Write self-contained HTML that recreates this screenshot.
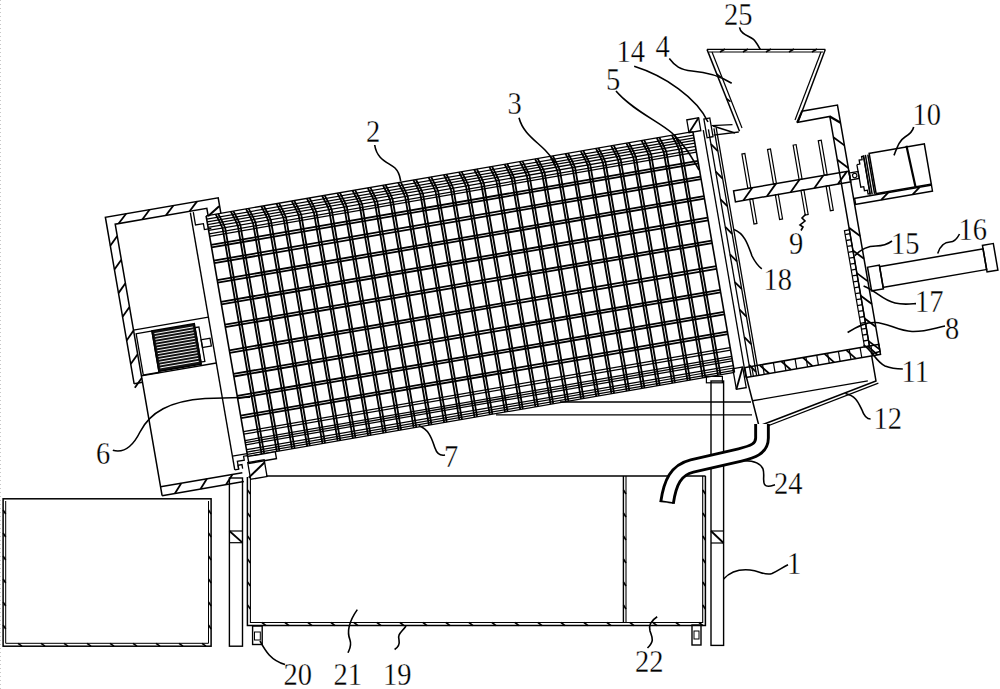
<!DOCTYPE html><html><head><meta charset="utf-8"><style>
html,body{margin:0;padding:0;background:#fff;width:1000px;height:689px;overflow:hidden}
svg{display:block}
text{font-family:"Liberation Serif",serif;fill:#000}
</style></head><body>
<svg width="1000" height="689" viewBox="0 0 1000 689">
<g stroke="#000" fill="none" stroke-linecap="butt">
<g transform="translate(207,221) rotate(-9.8)">
<line x1="0" y1="-5.3" x2="0" y2="239" stroke-width="1.6"/>
<polyline points="9.64,-5.3 12.64,4 14.14,10 14.14,239" stroke-width="1.8"/>
<polyline points="12.24,-5.3 15.24,4 16.74,10 16.74,239" stroke-width="1.8"/>
<polyline points="25.07,-5.3 28.07,4 29.57,10 29.57,239" stroke-width="1.8"/>
<polyline points="27.67,-5.3 30.67,4 32.17,10 32.17,239" stroke-width="1.8"/>
<polyline points="40.51,-5.3 43.51,4 45.01,10 45.01,239" stroke-width="1.8"/>
<polyline points="43.11,-5.3 46.11,4 47.61,10 47.61,239" stroke-width="1.8"/>
<polyline points="55.95,-5.3 58.95,4 60.45,10 60.45,239" stroke-width="1.8"/>
<polyline points="58.55,-5.3 61.55,4 63.05,10 63.05,239" stroke-width="1.8"/>
<polyline points="71.39,-5.3 74.39,4 75.89,10 75.89,239" stroke-width="1.8"/>
<polyline points="73.99,-5.3 76.99,4 78.49,10 78.49,239" stroke-width="1.8"/>
<polyline points="86.83,-5.3 89.83,4 91.33,10 91.33,239" stroke-width="1.8"/>
<polyline points="89.42,-5.3 92.42,4 93.92,10 93.92,239" stroke-width="1.8"/>
<polyline points="102.26,-5.3 105.26,4 106.76,10 106.76,239" stroke-width="1.8"/>
<polyline points="104.86,-5.3 107.86,4 109.36,10 109.36,239" stroke-width="1.8"/>
<polyline points="117.7,-5.3 120.7,4 122.2,10 122.2,239" stroke-width="1.8"/>
<polyline points="120.3,-5.3 123.3,4 124.8,10 124.8,239" stroke-width="1.8"/>
<polyline points="133.14,-5.3 136.14,4 137.64,10 137.64,239" stroke-width="1.8"/>
<polyline points="135.74,-5.3 138.74,4 140.24,10 140.24,239" stroke-width="1.8"/>
<polyline points="148.57,-5.3 151.57,4 153.07,10 153.07,239" stroke-width="1.8"/>
<polyline points="151.18,-5.3 154.18,4 155.68,10 155.68,239" stroke-width="1.8"/>
<polyline points="164.01,-5.3 167.01,4 168.51,10 168.51,239" stroke-width="1.8"/>
<polyline points="166.61,-5.3 169.61,4 171.11,10 171.11,239" stroke-width="1.8"/>
<polyline points="179.45,-5.3 182.45,4 183.95,10 183.95,239" stroke-width="1.8"/>
<polyline points="182.05,-5.3 185.05,4 186.55,10 186.55,239" stroke-width="1.8"/>
<polyline points="194.89,-5.3 197.89,4 199.39,10 199.39,239" stroke-width="1.8"/>
<polyline points="197.49,-5.3 200.49,4 201.99,10 201.99,239" stroke-width="1.8"/>
<polyline points="210.32,-5.3 213.32,4 214.82,10 214.82,239" stroke-width="1.8"/>
<polyline points="212.93,-5.3 215.93,4 217.43,10 217.43,239" stroke-width="1.8"/>
<polyline points="225.76,-5.3 228.76,4 230.26,10 230.26,239" stroke-width="1.8"/>
<polyline points="228.36,-5.3 231.36,4 232.86,10 232.86,239" stroke-width="1.8"/>
<polyline points="241.2,-5.3 244.2,4 245.7,10 245.7,239" stroke-width="1.8"/>
<polyline points="243.8,-5.3 246.8,4 248.3,10 248.3,239" stroke-width="1.8"/>
<polyline points="256.64,-5.3 259.64,4 261.14,10 261.14,239" stroke-width="1.8"/>
<polyline points="259.24,-5.3 262.24,4 263.74,10 263.74,239" stroke-width="1.8"/>
<polyline points="272.07,-5.3 275.07,4 276.57,10 276.57,239" stroke-width="1.8"/>
<polyline points="274.68,-5.3 277.68,4 279.18,10 279.18,239" stroke-width="1.8"/>
<polyline points="287.51,-5.3 290.51,4 292.01,10 292.01,239" stroke-width="1.8"/>
<polyline points="290.11,-5.3 293.11,4 294.61,10 294.61,239" stroke-width="1.8"/>
<polyline points="302.95,-5.3 305.95,4 307.45,10 307.45,239" stroke-width="1.8"/>
<polyline points="305.55,-5.3 308.55,4 310.05,10 310.05,239" stroke-width="1.8"/>
<polyline points="318.39,-5.3 321.39,4 322.89,10 322.89,239" stroke-width="1.8"/>
<polyline points="320.99,-5.3 323.99,4 325.49,10 325.49,239" stroke-width="1.8"/>
<polyline points="333.82,-5.3 336.82,4 338.32,10 338.32,239" stroke-width="1.8"/>
<polyline points="336.43,-5.3 339.43,4 340.93,10 340.93,239" stroke-width="1.8"/>
<polyline points="349.26,-5.3 352.26,4 353.76,10 353.76,239" stroke-width="1.8"/>
<polyline points="351.86,-5.3 354.86,4 356.36,10 356.36,239" stroke-width="1.8"/>
<polyline points="364.7,-5.3 367.7,4 369.2,10 369.2,239" stroke-width="1.8"/>
<polyline points="367.3,-5.3 370.3,4 371.8,10 371.8,239" stroke-width="1.8"/>
<polyline points="380.14,-5.3 383.14,4 384.64,10 384.64,239" stroke-width="1.8"/>
<polyline points="382.74,-5.3 385.74,4 387.24,10 387.24,239" stroke-width="1.8"/>
<polyline points="395.57,-5.3 398.57,4 400.07,10 400.07,239" stroke-width="1.8"/>
<polyline points="398.18,-5.3 401.18,4 402.68,10 402.68,239" stroke-width="1.8"/>
<polyline points="411.01,-5.3 414.01,4 415.51,10 415.51,239" stroke-width="1.8"/>
<polyline points="413.61,-5.3 416.61,4 418.11,10 418.11,239" stroke-width="1.8"/>
<polyline points="426.45,-5.3 429.45,4 430.95,10 430.95,239" stroke-width="1.8"/>
<polyline points="429.05,-5.3 432.05,4 433.55,10 433.55,239" stroke-width="1.8"/>
<polyline points="441.89,-5.3 444.89,4 446.39,10 446.39,239" stroke-width="1.8"/>
<polyline points="444.49,-5.3 447.49,4 448.99,10 448.99,239" stroke-width="1.8"/>
<polyline points="457.32,-5.3 460.32,4 461.82,10 461.82,239" stroke-width="1.8"/>
<polyline points="459.93,-5.3 462.93,4 464.43,10 464.43,239" stroke-width="1.8"/>
<polyline points="472.76,-5.3 475.76,4 477.26,10 477.26,239" stroke-width="1.8"/>
<polyline points="475.36,-5.3 478.36,4 479.86,10 479.86,239" stroke-width="1.8"/>
<line x1="494" y1="-5.3" x2="494" y2="239" stroke-width="1.6"/>
<line x1="0" y1="24.2" x2="494" y2="24.2" stroke-width="1.8"/>
<line x1="0" y1="26.8" x2="494" y2="26.8" stroke-width="1.8"/>
<line x1="0" y1="40.2" x2="494" y2="40.2" stroke-width="1.8"/>
<line x1="0" y1="42.8" x2="494" y2="42.8" stroke-width="1.8"/>
<line x1="0" y1="60" x2="494" y2="60" stroke-width="1.8"/>
<line x1="0" y1="62.6" x2="494" y2="62.6" stroke-width="1.8"/>
<line x1="0" y1="82" x2="494" y2="82" stroke-width="1.8"/>
<line x1="0" y1="84.6" x2="494" y2="84.6" stroke-width="1.8"/>
<line x1="0" y1="105.2" x2="494" y2="105.2" stroke-width="1.8"/>
<line x1="0" y1="107.8" x2="494" y2="107.8" stroke-width="1.8"/>
<line x1="0" y1="131.2" x2="494" y2="131.2" stroke-width="1.8"/>
<line x1="0" y1="133.8" x2="494" y2="133.8" stroke-width="1.8"/>
<line x1="0" y1="155.2" x2="494" y2="155.2" stroke-width="1.8"/>
<line x1="0" y1="157.8" x2="494" y2="157.8" stroke-width="1.8"/>
<line x1="0" y1="177.5" x2="494" y2="177.5" stroke-width="1.8"/>
<line x1="0" y1="180.1" x2="494" y2="180.1" stroke-width="1.8"/>
<line x1="0" y1="197.5" x2="494" y2="197.5" stroke-width="1.8"/>
<line x1="0" y1="200.1" x2="494" y2="200.1" stroke-width="1.8"/>
<line x1="0" y1="-5.3" x2="494" y2="-5.3" stroke-width="1.25"/>
<line x1="0" y1="-1.9" x2="494" y2="-1.9" stroke-width="1.25"/>
<line x1="0" y1="1" x2="494" y2="1" stroke-width="1.25"/>
<line x1="0" y1="3.6" x2="494" y2="3.6" stroke-width="1.25"/>
<line x1="0" y1="6.4" x2="494" y2="6.4" stroke-width="1.25"/>
<line x1="0" y1="9.6" x2="494" y2="9.6" stroke-width="1.25"/>
<line x1="0" y1="13" x2="494" y2="13" stroke-width="1.25"/>
<line x1="0" y1="15.5" x2="494" y2="15.5" stroke-width="1.25"/>
<line x1="0" y1="213.8" x2="494" y2="213.8" stroke-width="1.25"/>
<line x1="0" y1="216.3" x2="494" y2="216.3" stroke-width="1.25"/>
<line x1="0" y1="222.8" x2="494" y2="222.8" stroke-width="1.25"/>
<line x1="0" y1="225" x2="494" y2="225" stroke-width="1.25"/>
<line x1="0" y1="227.2" x2="494" y2="227.2" stroke-width="1.25"/>
<line x1="0" y1="232.1" x2="494" y2="232.1" stroke-width="1.25"/>
<line x1="0" y1="234.5" x2="494" y2="234.5" stroke-width="1.25"/>
<line x1="0" y1="236.8" x2="494" y2="236.8" stroke-width="1.25"/>
<line x1="0" y1="239" x2="494" y2="239" stroke-width="1.25"/>
<polyline points="-99.5,148 -99.5,-21 15,-21 15,-5" fill="none" stroke-width="1.5"/>
<line x1="2.5" y1="-5" x2="14.5" y2="-12.5" stroke-width="2.0"/>
<polyline points="-91,263 -91,-12.5 2,-12.5 2,-4" fill="none" stroke-width="1.5"/>
<line x1="-99.5" y1="148" x2="-91" y2="148" stroke-width="1.5"/>
<line x1="-87.5" y1="-12.5" x2="-78.5" y2="-21" stroke-width="1.8"/>
<line x1="-63.5" y1="-12.5" x2="-54.5" y2="-21" stroke-width="1.8"/>
<line x1="-39.5" y1="-12.5" x2="-30.5" y2="-21" stroke-width="1.8"/>
<line x1="-15.5" y1="-12.5" x2="-6.5" y2="-21" stroke-width="1.8"/>
<line x1="-99.5" y1="8" x2="-91" y2="-0.5" stroke-width="1.8"/>
<line x1="-99.5" y1="32" x2="-91" y2="23.5" stroke-width="1.8"/>
<line x1="-99.5" y1="56" x2="-91" y2="47.5" stroke-width="1.8"/>
<line x1="-99.5" y1="80" x2="-91" y2="71.5" stroke-width="1.8"/>
<line x1="-99.5" y1="104" x2="-91" y2="95.5" stroke-width="1.8"/>
<line x1="-99.5" y1="128" x2="-91" y2="119.5" stroke-width="1.8"/>
<line x1="-99.5" y1="152" x2="-91" y2="143.5" stroke-width="1.8"/>
<line x1="-91" y1="263" x2="-8" y2="263" stroke-width="1.5"/>
<line x1="-91" y1="254" x2="-8" y2="254" stroke-width="1.5"/>
<line x1="-78" y1="263" x2="-70" y2="254" stroke-width="1.8"/>
<line x1="-52" y1="263" x2="-44" y2="254" stroke-width="1.8"/>
<line x1="-26" y1="263" x2="-18" y2="254" stroke-width="1.8"/>
<line x1="-91" y1="95" x2="-15" y2="95" stroke-width="1.3"/>
<line x1="-91" y1="141.5" x2="-15" y2="141.5" stroke-width="1.3"/>
<rect x="-89" y="99" width="16" height="42" fill="none" stroke-width="1.3"/>
<rect x="-73" y="99" width="43" height="41" fill="#111" stroke-width="1.5"/>
<line x1="-71" y1="102" x2="-32" y2="102" stroke="#fff" stroke-width="0.9"/>
<line x1="-71" y1="104.9" x2="-32" y2="104.9" stroke="#fff" stroke-width="0.9"/>
<line x1="-71" y1="107.8" x2="-32" y2="107.8" stroke="#fff" stroke-width="0.9"/>
<line x1="-71" y1="110.7" x2="-32" y2="110.7" stroke="#fff" stroke-width="0.9"/>
<line x1="-71" y1="113.6" x2="-32" y2="113.6" stroke="#fff" stroke-width="0.9"/>
<line x1="-71" y1="116.5" x2="-32" y2="116.5" stroke="#fff" stroke-width="0.9"/>
<line x1="-71" y1="119.4" x2="-32" y2="119.4" stroke="#fff" stroke-width="0.9"/>
<line x1="-71" y1="122.3" x2="-32" y2="122.3" stroke="#fff" stroke-width="0.9"/>
<line x1="-71" y1="125.2" x2="-32" y2="125.2" stroke="#fff" stroke-width="0.9"/>
<line x1="-71" y1="128.1" x2="-32" y2="128.1" stroke="#fff" stroke-width="0.9"/>
<line x1="-71" y1="131" x2="-32" y2="131" stroke="#fff" stroke-width="0.9"/>
<line x1="-71" y1="133.9" x2="-32" y2="133.9" stroke="#fff" stroke-width="0.9"/>
<line x1="-71" y1="136.8" x2="-32" y2="136.8" stroke="#fff" stroke-width="0.9"/>
<rect x="-30" y="103" width="4" height="35" fill="none" stroke-width="1.3"/>
<rect x="-26" y="116" width="9" height="8" fill="none" stroke-width="1.3"/>
<polyline points="-12,-11 -12,2 -4,2 -4,8 3,8" fill="none" stroke-width="1.3"/>
<polyline points="-15,236 0,236" fill="none" stroke-width="1.3"/>
<polyline points="-15,250 -11,250 -11,242 -4,242 -4,238 0,238" fill="none" stroke-width="1.3"/>
<line x1="-15" y1="-11" x2="-15" y2="250" stroke-width="1.4"/>
<rect x="0" y="239" width="28" height="7" fill="#fff" stroke-width="1.4"/>
<rect x="-1" y="245" width="16.7" height="17" fill="none" stroke-width="1.3"/>
<line x1="-2.5" y1="260" x2="15.5" y2="247.8" stroke-width="2.0"/>
<polyline points="-11,250 -11,246 -7,246 -7,250" fill="none" stroke-width="1.3"/>
<line x1="504.5" y1="-5" x2="504.5" y2="246" stroke-width="1.3"/>
<line x1="509.7" y1="-5" x2="509.7" y2="246" stroke-width="1.3"/>
<line x1="515.3" y1="-5" x2="515.3" y2="246" stroke-width="1.3"/>
<line x1="517.6" y1="-5" x2="517.6" y2="246" stroke-width="1.3"/>
<line x1="509.7" y1="10" x2="515.3" y2="18" stroke-width="1.8"/>
<line x1="509.7" y1="38" x2="515.3" y2="46" stroke-width="1.8"/>
<line x1="509.7" y1="66" x2="515.3" y2="74" stroke-width="1.8"/>
<line x1="509.7" y1="94" x2="515.3" y2="102" stroke-width="1.8"/>
<line x1="509.7" y1="122" x2="515.3" y2="130" stroke-width="1.8"/>
<line x1="509.7" y1="150" x2="515.3" y2="158" stroke-width="1.8"/>
<line x1="509.7" y1="178" x2="515.3" y2="186" stroke-width="1.8"/>
<line x1="509.7" y1="206" x2="515.3" y2="214" stroke-width="1.8"/>
<line x1="509.7" y1="234" x2="515.3" y2="242" stroke-width="1.8"/>
<rect x="490" y="-18" width="12" height="13" fill="none" stroke-width="1.3"/>
<line x1="490" y1="-5" x2="502" y2="-18" stroke-width="1.8"/>
<rect x="507" y="-16" width="6" height="19" fill="none" stroke-width="1.3"/>
<rect x="493" y="235" width="10" height="21" fill="none" stroke-width="1.3"/>
<line x1="493" y1="256" x2="503" y2="235" stroke-width="1.8"/>
<polyline points="598,3.4 604.8,-7 641,-7 641,243 631.5,244" fill="none" stroke-width="1.5"/>
<polyline points="598,3.4 631.5,3 631.5,236" fill="none" stroke-width="1.5"/>
<line x1="631.5" y1="24" x2="641" y2="34" stroke-width="1.8"/>
<line x1="631.5" y1="47" x2="641" y2="57" stroke-width="1.8"/>
<line x1="631.5" y1="116" x2="641" y2="126" stroke-width="1.8"/>
<line x1="631.5" y1="139" x2="641" y2="149" stroke-width="1.8"/>
<line x1="631.5" y1="162" x2="641" y2="172" stroke-width="1.8"/>
<line x1="631.5" y1="185" x2="641" y2="195" stroke-width="1.8"/>
<line x1="631.5" y1="208" x2="641" y2="218" stroke-width="1.8"/>
<line x1="631.5" y1="231" x2="641" y2="241" stroke-width="1.8"/>
<line x1="631.5" y1="3" x2="641" y2="11" stroke-width="2.2"/>
<rect x="626.5" y="118" width="5" height="118" fill="none" stroke-width="1.2"/>
<line x1="626.5" y1="122" x2="631.5" y2="122" stroke-width="1.3"/>
<line x1="626.5" y1="128" x2="631.5" y2="128" stroke-width="1.3"/>
<line x1="626.5" y1="134" x2="631.5" y2="134" stroke-width="1.3"/>
<line x1="626.5" y1="140" x2="631.5" y2="140" stroke-width="1.3"/>
<line x1="626.5" y1="146" x2="631.5" y2="146" stroke-width="1.3"/>
<line x1="626.5" y1="152" x2="631.5" y2="152" stroke-width="1.3"/>
<line x1="626.5" y1="158" x2="631.5" y2="158" stroke-width="1.3"/>
<line x1="626.5" y1="164" x2="631.5" y2="164" stroke-width="1.3"/>
<line x1="626.5" y1="170" x2="631.5" y2="170" stroke-width="1.3"/>
<line x1="626.5" y1="176" x2="631.5" y2="176" stroke-width="1.3"/>
<line x1="626.5" y1="182" x2="631.5" y2="182" stroke-width="1.3"/>
<line x1="626.5" y1="188" x2="631.5" y2="188" stroke-width="1.3"/>
<line x1="626.5" y1="194" x2="631.5" y2="194" stroke-width="1.3"/>
<line x1="626.5" y1="200" x2="631.5" y2="200" stroke-width="1.3"/>
<line x1="626.5" y1="206" x2="631.5" y2="206" stroke-width="1.3"/>
<line x1="626.5" y1="212" x2="631.5" y2="212" stroke-width="1.3"/>
<line x1="626.5" y1="218" x2="631.5" y2="218" stroke-width="1.3"/>
<line x1="626.5" y1="224" x2="631.5" y2="224" stroke-width="1.3"/>
<line x1="626.5" y1="230" x2="631.5" y2="230" stroke-width="1.3"/>
<rect x="524" y="60" width="117" height="11" fill="none" stroke-width="1.5"/>
<line x1="532" y1="71" x2="543" y2="60" stroke-width="1.8"/>
<line x1="556" y1="71" x2="567" y2="60" stroke-width="1.8"/>
<line x1="580" y1="71" x2="591" y2="60" stroke-width="1.8"/>
<line x1="604" y1="71" x2="615" y2="60" stroke-width="1.8"/>
<line x1="628" y1="71" x2="639" y2="60" stroke-width="1.8"/>
<rect x="538.5" y="25" width="3" height="35" fill="none" stroke-width="1.2"/>
<rect x="538.5" y="71" width="3" height="25" fill="none" stroke-width="1.2"/>
<rect x="564.5" y="25" width="3" height="35" fill="none" stroke-width="1.2"/>
<rect x="564.5" y="71" width="3" height="25" fill="none" stroke-width="1.2"/>
<rect x="590.5" y="25" width="3" height="35" fill="none" stroke-width="1.2"/>
<rect x="590.5" y="71" width="3" height="25" fill="none" stroke-width="1.2"/>
<rect x="616" y="25" width="3" height="35" fill="none" stroke-width="1.2"/>
<rect x="616" y="71" width="3" height="25" fill="none" stroke-width="1.2"/>
<rect x="641" y="62" width="9" height="7" fill="none" stroke-width="1.3"/>
<circle cx="646" cy="65.5" r="2.2" stroke-width="1.2"/>
<polyline points="650,55 653,55 653,51 656,51 656,48 658,48 658,86 656,86 656,82 653,82 653,78 650,78 650,55" fill="none" stroke-width="1.3"/>
<line x1="658" y1="47" x2="658" y2="87" stroke-width="1.5"/>
<line x1="660" y1="47" x2="660" y2="87" stroke-width="1.5"/>
<line x1="662.5" y1="47" x2="662.5" y2="87" stroke-width="1.5"/>
<rect x="664" y="46" width="56" height="41" fill="none" stroke-width="1.5"/>
<line x1="702" y1="45" x2="704" y2="87" stroke-width="2.2"/>
<rect x="642" y="88" width="78" height="6" fill="none" stroke-width="1.4"/>
<line x1="668" y1="94" x2="676" y2="88" stroke-width="1.8"/>
<line x1="700" y1="94" x2="708" y2="88" stroke-width="1.8"/>
<rect x="655" y="159.5" width="105" height="21" fill="none" stroke-width="1.5"/>
<rect x="760" y="156" width="11" height="27" fill="none" stroke-width="1.5"/>
<rect x="643" y="158" width="12" height="24" fill="none" stroke-width="1.5"/>
<rect x="505" y="236" width="136" height="10" fill="none" stroke-width="1.5"/>
<line x1="512" y1="236" x2="512" y2="246" stroke-width="1.2"/>
<line x1="523" y1="236" x2="523" y2="246" stroke-width="1.2"/>
<line x1="534" y1="236" x2="534" y2="246" stroke-width="1.2"/>
<line x1="545" y1="236" x2="545" y2="246" stroke-width="1.2"/>
<line x1="556" y1="236" x2="556" y2="246" stroke-width="1.2"/>
<line x1="567" y1="236" x2="567" y2="246" stroke-width="1.2"/>
<line x1="578" y1="236" x2="578" y2="246" stroke-width="1.2"/>
<line x1="589" y1="236" x2="589" y2="246" stroke-width="1.2"/>
<line x1="600" y1="236" x2="600" y2="246" stroke-width="1.2"/>
<line x1="611" y1="236" x2="611" y2="246" stroke-width="1.2"/>
<line x1="622" y1="236" x2="622" y2="246" stroke-width="1.2"/>
<line x1="633" y1="236" x2="633" y2="246" stroke-width="1.2"/>
<line x1="520" y1="236" x2="528" y2="246" stroke-width="1.8"/>
<line x1="542" y1="236" x2="550" y2="246" stroke-width="1.8"/>
<line x1="564" y1="236" x2="572" y2="246" stroke-width="1.8"/>
<line x1="586" y1="236" x2="594" y2="246" stroke-width="1.8"/>
<line x1="608" y1="236" x2="616" y2="246" stroke-width="1.8"/>
<line x1="630" y1="236" x2="638" y2="246" stroke-width="1.8"/>
<polyline points="505,246 509,296 632,271.5 632,246" fill="none" stroke-width="1.5"/>
<polyline points="510,299 634,274" fill="none" stroke-width="1.2"/>
<line x1="507" y1="270" x2="624" y2="270" stroke-width="1.3"/>
</g>
<line x1="0.5" y1="0" x2="0.5" y2="689" stroke="#c8c8c8" stroke-width="1" stroke-dasharray="1,3"/>
<polyline points="707,49.4 825.3,49.4" fill="none" stroke-width="1.4"/>
<line x1="709" y1="52" x2="823" y2="52" stroke-width="1.0"/>
<line x1="720" y1="52" x2="725" y2="49" stroke-width="1.5"/>
<line x1="743" y1="52" x2="748" y2="49" stroke-width="1.5"/>
<line x1="766" y1="52" x2="771" y2="49" stroke-width="1.5"/>
<line x1="789" y1="52" x2="794" y2="49" stroke-width="1.5"/>
<line x1="812" y1="52" x2="817" y2="49" stroke-width="1.5"/>
<polyline points="707,49.4 739.5,131.3" fill="none" stroke-width="1.5"/>
<polyline points="712,52 742,128" fill="none" stroke-width="1.2"/>
<polyline points="825.3,49.4 798,122.2" fill="none" stroke-width="1.5"/>
<polyline points="821,52 795,120" fill="none" stroke-width="1.2"/>
<line x1="716.75" y1="74" x2="720.75" y2="77" stroke-width="1.5"/>
<line x1="726.5" y1="98.6" x2="730.5" y2="101.6" stroke-width="1.5"/>
<polyline points="711.5,125.7 732.5,124.6" fill="none" stroke-width="1.3"/>
<polyline points="713.6,135.1 738.8,132" fill="none" stroke-width="1.3"/>
<line x1="713" y1="126" x2="735" y2="133" stroke-width="1.6"/>
<polyline points="797.6,122.5 802,112" fill="none" stroke-width="1.3"/>
<rect x="229.4" y="478" width="13.1" height="168.2" fill="none" stroke-width="1.4"/>
<line x1="229.4" y1="531" x2="242.5" y2="531" stroke-width="1.2"/>
<line x1="229.4" y1="542.7" x2="242.5" y2="542.7" stroke-width="1.2"/>
<line x1="229.4" y1="531" x2="242.5" y2="542.7" stroke-width="1.8"/>
<rect x="711" y="381" width="12.6" height="264.4" fill="none" stroke-width="1.4"/>
<line x1="711" y1="531" x2="723.6" y2="531" stroke-width="1.2"/>
<line x1="711" y1="543" x2="723.6" y2="543" stroke-width="1.2"/>
<line x1="711" y1="531" x2="723.6" y2="543" stroke-width="1.8"/>
<rect x="706.4" y="376.4" width="16" height="6.4" fill="none" stroke-width="1.2"/>
<line x1="560" y1="402" x2="751" y2="402" stroke-width="1.3"/>
<line x1="496" y1="414.8" x2="752" y2="414.8" stroke-width="1.3"/>
<line x1="266" y1="476" x2="705.5" y2="476" stroke-width="1.5"/>
<polyline points="247.4,477 247.4,625.6 705.4,625.6 705.4,476" fill="none" stroke-width="1.5"/>
<polyline points="250.4,478 250.4,622.5 702.7,622.5 702.7,476" fill="none" stroke-width="1.1"/>
<line x1="623.4" y1="476" x2="623.4" y2="622.5" stroke-width="1.4"/>
<line x1="626" y1="476" x2="626" y2="622.5" stroke-width="1.1"/>
<line x1="262" y1="622.5" x2="266" y2="625.6" stroke-width="1.6"/>
<line x1="285" y1="622.5" x2="289" y2="625.6" stroke-width="1.6"/>
<line x1="308" y1="622.5" x2="312" y2="625.6" stroke-width="1.6"/>
<line x1="331" y1="622.5" x2="335" y2="625.6" stroke-width="1.6"/>
<line x1="354" y1="622.5" x2="358" y2="625.6" stroke-width="1.6"/>
<line x1="377" y1="622.5" x2="381" y2="625.6" stroke-width="1.6"/>
<line x1="400" y1="622.5" x2="404" y2="625.6" stroke-width="1.6"/>
<line x1="423" y1="622.5" x2="427" y2="625.6" stroke-width="1.6"/>
<line x1="446" y1="622.5" x2="450" y2="625.6" stroke-width="1.6"/>
<line x1="469" y1="622.5" x2="473" y2="625.6" stroke-width="1.6"/>
<line x1="492" y1="622.5" x2="496" y2="625.6" stroke-width="1.6"/>
<line x1="515" y1="622.5" x2="519" y2="625.6" stroke-width="1.6"/>
<line x1="538" y1="622.5" x2="542" y2="625.6" stroke-width="1.6"/>
<line x1="561" y1="622.5" x2="565" y2="625.6" stroke-width="1.6"/>
<line x1="584" y1="622.5" x2="588" y2="625.6" stroke-width="1.6"/>
<line x1="607" y1="622.5" x2="611" y2="625.6" stroke-width="1.6"/>
<line x1="630" y1="622.5" x2="634" y2="625.6" stroke-width="1.6"/>
<line x1="653" y1="622.5" x2="657" y2="625.6" stroke-width="1.6"/>
<line x1="676" y1="622.5" x2="680" y2="625.6" stroke-width="1.6"/>
<line x1="699" y1="622.5" x2="703" y2="625.6" stroke-width="1.6"/>
<line x1="247.5" y1="490" x2="250.4" y2="494" stroke-width="1.6"/>
<line x1="702.7" y1="490" x2="705.4" y2="494" stroke-width="1.6"/>
<line x1="623.4" y1="490" x2="626" y2="494" stroke-width="1.6"/>
<line x1="247.5" y1="513" x2="250.4" y2="517" stroke-width="1.6"/>
<line x1="702.7" y1="513" x2="705.4" y2="517" stroke-width="1.6"/>
<line x1="623.4" y1="513" x2="626" y2="517" stroke-width="1.6"/>
<line x1="247.5" y1="536" x2="250.4" y2="540" stroke-width="1.6"/>
<line x1="702.7" y1="536" x2="705.4" y2="540" stroke-width="1.6"/>
<line x1="623.4" y1="536" x2="626" y2="540" stroke-width="1.6"/>
<line x1="247.5" y1="559" x2="250.4" y2="563" stroke-width="1.6"/>
<line x1="702.7" y1="559" x2="705.4" y2="563" stroke-width="1.6"/>
<line x1="623.4" y1="559" x2="626" y2="563" stroke-width="1.6"/>
<line x1="247.5" y1="582" x2="250.4" y2="586" stroke-width="1.6"/>
<line x1="702.7" y1="582" x2="705.4" y2="586" stroke-width="1.6"/>
<line x1="623.4" y1="582" x2="626" y2="586" stroke-width="1.6"/>
<line x1="247.5" y1="605" x2="250.4" y2="609" stroke-width="1.6"/>
<line x1="702.7" y1="605" x2="705.4" y2="609" stroke-width="1.6"/>
<line x1="623.4" y1="605" x2="626" y2="609" stroke-width="1.6"/>
<rect x="252.6" y="626" width="9.6" height="18.5" fill="none" stroke-width="1.4"/>
<rect x="254.5" y="632" width="5.8" height="8" fill="none" stroke-width="1.0"/>
<rect x="692" y="625" width="9" height="20" fill="none" stroke-width="1.4"/>
<rect x="694" y="631" width="5" height="8" fill="none" stroke-width="1.0"/>
<rect x="3.1" y="498.8" width="208" height="147.4" fill="none" stroke-width="1.5"/>
<line x1="5.7" y1="501" x2="5.7" y2="643.3" stroke-width="1.0"/>
<line x1="208.5" y1="501" x2="208.5" y2="643.3" stroke-width="1.0"/>
<line x1="5.7" y1="643.3" x2="208.5" y2="643.3" stroke-width="1.0"/>
<line x1="18" y1="643.3" x2="22" y2="646.2" stroke-width="1.5"/>
<line x1="41" y1="643.3" x2="45" y2="646.2" stroke-width="1.5"/>
<line x1="64" y1="643.3" x2="68" y2="646.2" stroke-width="1.5"/>
<line x1="87" y1="643.3" x2="91" y2="646.2" stroke-width="1.5"/>
<line x1="110" y1="643.3" x2="114" y2="646.2" stroke-width="1.5"/>
<line x1="133" y1="643.3" x2="137" y2="646.2" stroke-width="1.5"/>
<line x1="156" y1="643.3" x2="160" y2="646.2" stroke-width="1.5"/>
<line x1="179" y1="643.3" x2="183" y2="646.2" stroke-width="1.5"/>
<line x1="202" y1="643.3" x2="206" y2="646.2" stroke-width="1.5"/>
<line x1="3.1" y1="510" x2="5.7" y2="514" stroke-width="1.5"/>
<line x1="208.5" y1="510" x2="211.1" y2="514" stroke-width="1.5"/>
<line x1="3.1" y1="533" x2="5.7" y2="537" stroke-width="1.5"/>
<line x1="208.5" y1="533" x2="211.1" y2="537" stroke-width="1.5"/>
<line x1="3.1" y1="556" x2="5.7" y2="560" stroke-width="1.5"/>
<line x1="208.5" y1="556" x2="211.1" y2="560" stroke-width="1.5"/>
<line x1="3.1" y1="579" x2="5.7" y2="583" stroke-width="1.5"/>
<line x1="208.5" y1="579" x2="211.1" y2="583" stroke-width="1.5"/>
<line x1="3.1" y1="602" x2="5.7" y2="606" stroke-width="1.5"/>
<line x1="208.5" y1="602" x2="211.1" y2="606" stroke-width="1.5"/>
<line x1="3.1" y1="625" x2="5.7" y2="629" stroke-width="1.5"/>
<line x1="208.5" y1="625" x2="211.1" y2="629" stroke-width="1.5"/>
<path d="M762,424 L762,438 C762,449 752,452 740,455 L692,466 C676,470 670,482 667,503" fill="none" stroke="#000" stroke-width="15.6"/>
<path d="M762,424 L762,438 C762,449 752,452 740,455 L692,466 C676,470 670,482 667,503" fill="none" stroke="#fff" stroke-width="9.8"/>
<line x1="660.5" y1="501" x2="673.5" y2="503" stroke-width="1.3"/>
<path d="M739.5,27.3 C741,36 752,36 755,41 C758,45 759,47 760.3,49.4" fill="none" stroke-width="1.6"/>
<path d="M669.3,58.5 C675,66 680,70 692,71 C705,72 720,76 731.7,83.2" fill="none" stroke-width="1.6"/>
<path d="M634.2,66.3 C665,76 697,98 708,122" fill="none" stroke-width="1.6"/>
<path d="M616,91 C632,110 660,122 672,133 C686,146 692,158 699,170" fill="none" stroke-width="1.6"/>
<path d="M519,117.7 C523,133 535,140 545,150 C550,155 553,160 555.4,163.2" fill="none" stroke-width="1.6"/>
<path d="M374.7,145 C377,160 388,162 395,168 C400,173 400,178 400.7,181.4" fill="none" stroke-width="1.6"/>
<path d="M894,155.4 C898,145 900,140 905,137 C910,134 913,130 913.7,127" fill="none" stroke-width="1.6"/>
<path d="M806,214 L802,218 L805,221 L800,225 L803,227 L801,230.5" fill="none" stroke-width="1.6"/>
<path d="M734,229.6 C745,234 748,245 752,256 C755,262 758,266 761.8,268.8" fill="none" stroke-width="1.6"/>
<path d="M855,255.6 C862,248 868,246 876,246 C884,246 888,244 892,241" fill="none" stroke-width="1.6"/>
<path d="M937.7,253.5 C940,246 945,242 950,242 C954,242 957,239 959.5,234" fill="none" stroke-width="1.6"/>
<path d="M863.6,286 C878,292 882,300 895,303 C903,305 910,304 916,303.6" fill="none" stroke-width="1.6"/>
<path d="M847.6,332.5 C858,326 866,322 875,322.5 C888,323 898,331 912,331.5 C925,332 935,328 945,326" fill="none" stroke-width="1.6"/>
<path d="M863.6,345 C872,350 876,362 885,366 C890,368 896,369 902.8,369" fill="none" stroke-width="1.6"/>
<path d="M845.4,393.5 C856,396 858,402 862,410 C864,416 867,419 870.6,419" fill="none" stroke-width="1.6"/>
<path d="M112.8,450.3 C126,454 134,444 140,432 C150,412 170,401 205,398.5 L250,397.3" fill="none" stroke-width="1.6"/>
<path d="M418.7,425.6 C430,430 432,440 435,448 C437,454 440,456 445,455" fill="none" stroke-width="1.6"/>
<path d="M743,460.8 C752,460.5 760,462 763,469 C765,475 762,482 765,485 C767,487.5 771,486 775,484.7" fill="none" stroke-width="1.6"/>
<path d="M723.6,579 C730,572 740,569 750,570 C760,571 765,576 772,573.5 C778,571 783,567 788,564.8" fill="none" stroke-width="1.6"/>
<path d="M657.2,616.7 C652,620 648,624 650,631 C652,637 655,641 647.5,648" fill="none" stroke-width="1.6"/>
<path d="M260,641 C265,650 270,660 285,664.5" fill="none" stroke-width="1.6"/>
<path d="M357.3,609.6 C350,620 346,630 350,640 C352,646 349,650 348,652.8" fill="none" stroke-width="1.6"/>
<path d="M406,626 C402,632 397,634 399,640 C400,645 397,648 394.6,649.5" fill="none" stroke-width="1.6"/>
<text transform="translate(724,24.7) scale(0.92,1)" font-size="31" stroke="#fff" stroke-width="0.3">25</text>
<text transform="translate(655.5,57.2) scale(0.92,1)" font-size="31" stroke="#fff" stroke-width="0.3">4</text>
<text transform="translate(616.5,62.4) scale(0.92,1)" font-size="31" stroke="#fff" stroke-width="0.3">14</text>
<text transform="translate(606,89.7) scale(0.92,1)" font-size="31" stroke="#fff" stroke-width="0.3">5</text>
<text transform="translate(507.5,113.8) scale(0.92,1)" font-size="31" stroke="#fff" stroke-width="0.3">3</text>
<text transform="translate(366,142.4) scale(0.92,1)" font-size="31" stroke="#fff" stroke-width="0.3">2</text>
<text transform="translate(912.5,125) scale(0.92,1)" font-size="31" stroke="#fff" stroke-width="0.3">10</text>
<text transform="translate(789,254) scale(0.92,1)" font-size="31" stroke="#fff" stroke-width="0.3">9</text>
<text transform="translate(763.5,289.7) scale(0.92,1)" font-size="31" stroke="#fff" stroke-width="0.3">18</text>
<text transform="translate(891,253.5) scale(0.92,1)" font-size="31" stroke="#fff" stroke-width="0.3">15</text>
<text transform="translate(958.5,240.4) scale(0.92,1)" font-size="31" stroke="#fff" stroke-width="0.3">16</text>
<text transform="translate(915,312) scale(0.92,1)" font-size="31" stroke="#fff" stroke-width="0.3">17</text>
<text transform="translate(945,338.5) scale(0.92,1)" font-size="31" stroke="#fff" stroke-width="0.3">8</text>
<text transform="translate(901.5,382) scale(0.92,1)" font-size="31" stroke="#fff" stroke-width="0.3">11</text>
<text transform="translate(873.5,429.2) scale(0.92,1)" font-size="31" stroke="#fff" stroke-width="0.3">12</text>
<text transform="translate(96,463.6) scale(0.92,1)" font-size="31" stroke="#fff" stroke-width="0.3">6</text>
<text transform="translate(444,467.4) scale(0.92,1)" font-size="31" stroke="#fff" stroke-width="0.3">7</text>
<text transform="translate(774,494) scale(0.92,1)" font-size="31" stroke="#fff" stroke-width="0.3">24</text>
<text transform="translate(787,574) scale(0.92,1)" font-size="31" stroke="#fff" stroke-width="0.3">1</text>
<text transform="translate(635,671.5) scale(0.92,1)" font-size="31" stroke="#fff" stroke-width="0.3">22</text>
<text transform="translate(283.5,685) scale(0.92,1)" font-size="31" stroke="#fff" stroke-width="0.3">20</text>
<text transform="translate(333.5,685) scale(0.92,1)" font-size="31" stroke="#fff" stroke-width="0.3">21</text>
<text transform="translate(383,685) scale(0.92,1)" font-size="31" stroke="#fff" stroke-width="0.3">19</text>
</g>
</svg></body></html>
